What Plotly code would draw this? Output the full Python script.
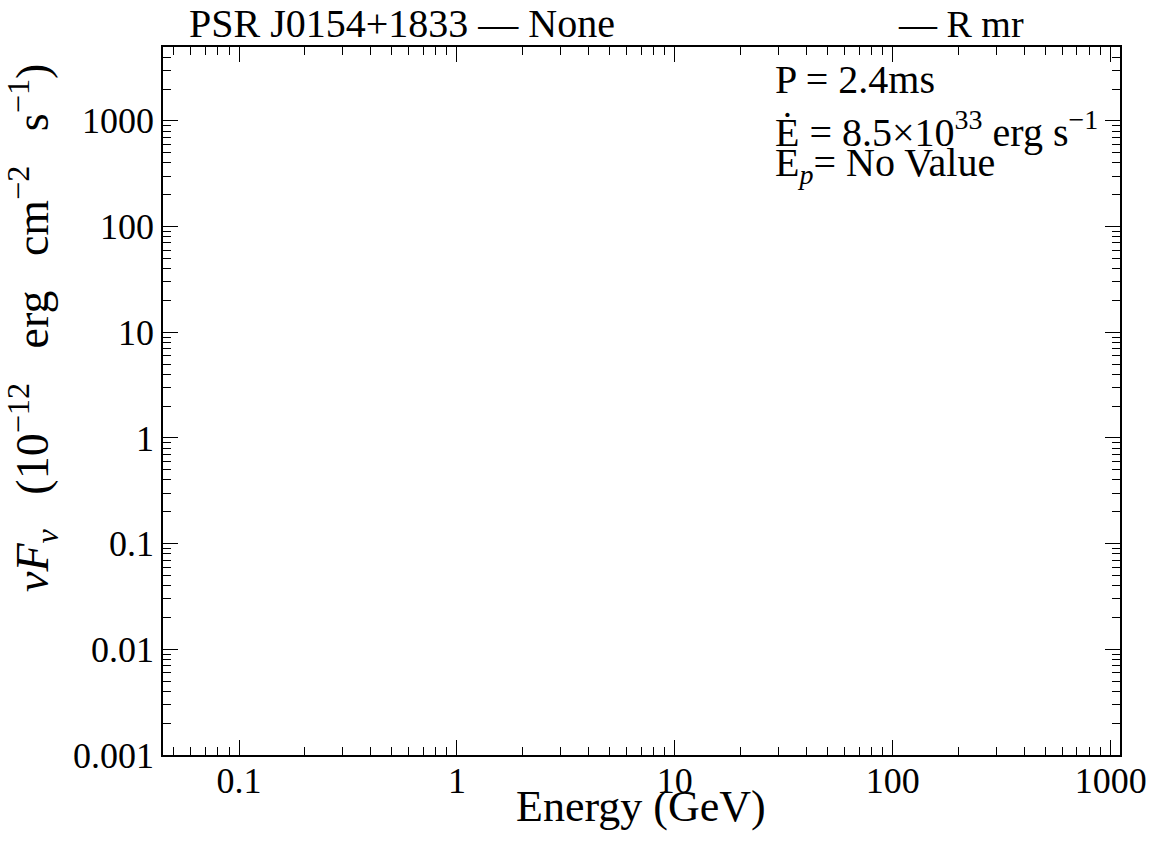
import plotly.graph_objects as go
import math

# ---- data (the reference chart has no plotted points) ----
energy_gev = []
nufnu = []

x_tick_vals = [0.1, 1, 10, 100, 1000]
x_tick_text = ["0.1", "1", "10", "100", "1000"]
y_tick_vals = [0.001, 0.01, 0.1, 1, 10, 100, 1000]
y_tick_text = ["0.001", "0.01", "0.1", "1", "10", "100", "1000"]

x_range = [0.0448, 1103]
y_range = [0.001, 5000]

title_left = "PSR J0154+1833 — None"
title_right = "— R mr"
info_lines = ["P = 2.4ms",
              "Ė = 8.5×10<sup>33</sup> erg s<sup>−1</sup>",
              "E<sub><i>p</i></sub>= No Value"]
x_title = "Energy (GeV)"
y_title = ("<i>νF<sub>ν</sub></i> \u00a0\u00a0(10<sup>−12</sup> \u00a0\u00a0erg \u00a0\u00a0cm<sup>−2</sup>"
           " \u00a0\u00a0s<sup>−1</sup>)")

FONT = "Liberation Serif"
BLACK = "#000000"

x_minor = [m * 10 ** k for k in range(-2, 4) for m in range(2, 10)
           if x_range[0] <= m * 10 ** k <= x_range[1]]
y_minor = [m * 10 ** k for k in range(-3, 4) for m in range(2, 10)
           if y_range[0] <= m * 10 ** k <= y_range[1]]

fig = go.Figure()
fig.add_trace(go.Scatter(x=energy_gev, y=nufnu, mode="markers", showlegend=False))

xr = [math.log10(v) for v in x_range]
yr = [math.log10(v) for v in y_range]

common = dict(type="log", showgrid=False, zeroline=False, showline=True,
              linecolor=BLACK, linewidth=1.5, ticks="inside", ticklen=15,
              tickwidth=1.3, tickcolor=BLACK, automargin=False,
              tickfont=dict(family=FONT, size=36, color=BLACK))

def minor_ticks(vals):
    return dict(tickmode="array", tickvals=vals, ticks="inside", ticklen=8,
                tickwidth=1.2, tickcolor=BLACK, showgrid=False)

fig.update_layout(
    width=1154, height=855,
    margin=dict(l=163, r=34, t=47, b=100),
    paper_bgcolor="white", plot_bgcolor="white",
    showlegend=False,
    xaxis=dict(range=xr, tickmode="array", tickvals=x_tick_vals, ticktext=x_tick_text,
               ticklabelstandoff=-7, minor=minor_ticks(x_minor), **common),
    yaxis=dict(range=yr, tickmode="array", tickvals=y_tick_vals, ticktext=y_tick_text,
               minor=minor_ticks(y_minor), **common),
    xaxis2=dict(overlaying="x", side="top", range=xr, tickmode="array",
                tickvals=x_tick_vals, showticklabels=False,
                minor=minor_ticks(x_minor), **common),
    yaxis2=dict(overlaying="y", side="right", range=yr, tickmode="array",
                tickvals=y_tick_vals, showticklabels=False,
                minor=minor_ticks(y_minor), **common),
)
fig.add_trace(go.Scatter(x=energy_gev, y=nufnu, xaxis="x2", yaxis="y2",
                         mode="markers", showlegend=False))

def px(xp):
    return (xp - 163) / 957.0

def py(yp):
    return (755 - yp) / 708.0

fig.add_annotation(text=title_left, xref="paper", yref="paper", x=px(187), y=py(24),
                   xanchor="left", yanchor="middle", showarrow=False,
                   font=dict(family=FONT, size=40, color=BLACK))
fig.add_annotation(text=title_right, xref="paper", yref="paper", x=px(1026), y=py(24),
                   xanchor="right", yanchor="middle", showarrow=False,
                   font=dict(family=FONT, size=38, color=BLACK))
for txt, yc in zip(info_lines, [79, 129, 165]):
    fig.add_annotation(text=txt, xref="paper", yref="paper", x=px(773), y=py(yc),
                       xanchor="left", yanchor="middle", showarrow=False,
                       font=dict(family=FONT, size=40, color=BLACK))

fig.add_annotation(text=x_title, xref="paper", yref="paper", x=px(641), y=py(806),
                   xanchor="center", yanchor="middle", showarrow=False,
                   font=dict(family=FONT, size=44, color=BLACK))
fig.add_annotation(text=y_title, xref="paper", yref="paper", x=px(32), y=py(328),
                   xanchor="center", yanchor="middle", showarrow=False, textangle=-90,
                   font=dict(family=FONT, size=46, color=BLACK))

fig.write_html("out.html", config={"displayModeBar": False},
               post_script="document.body.style.margin='0';")
